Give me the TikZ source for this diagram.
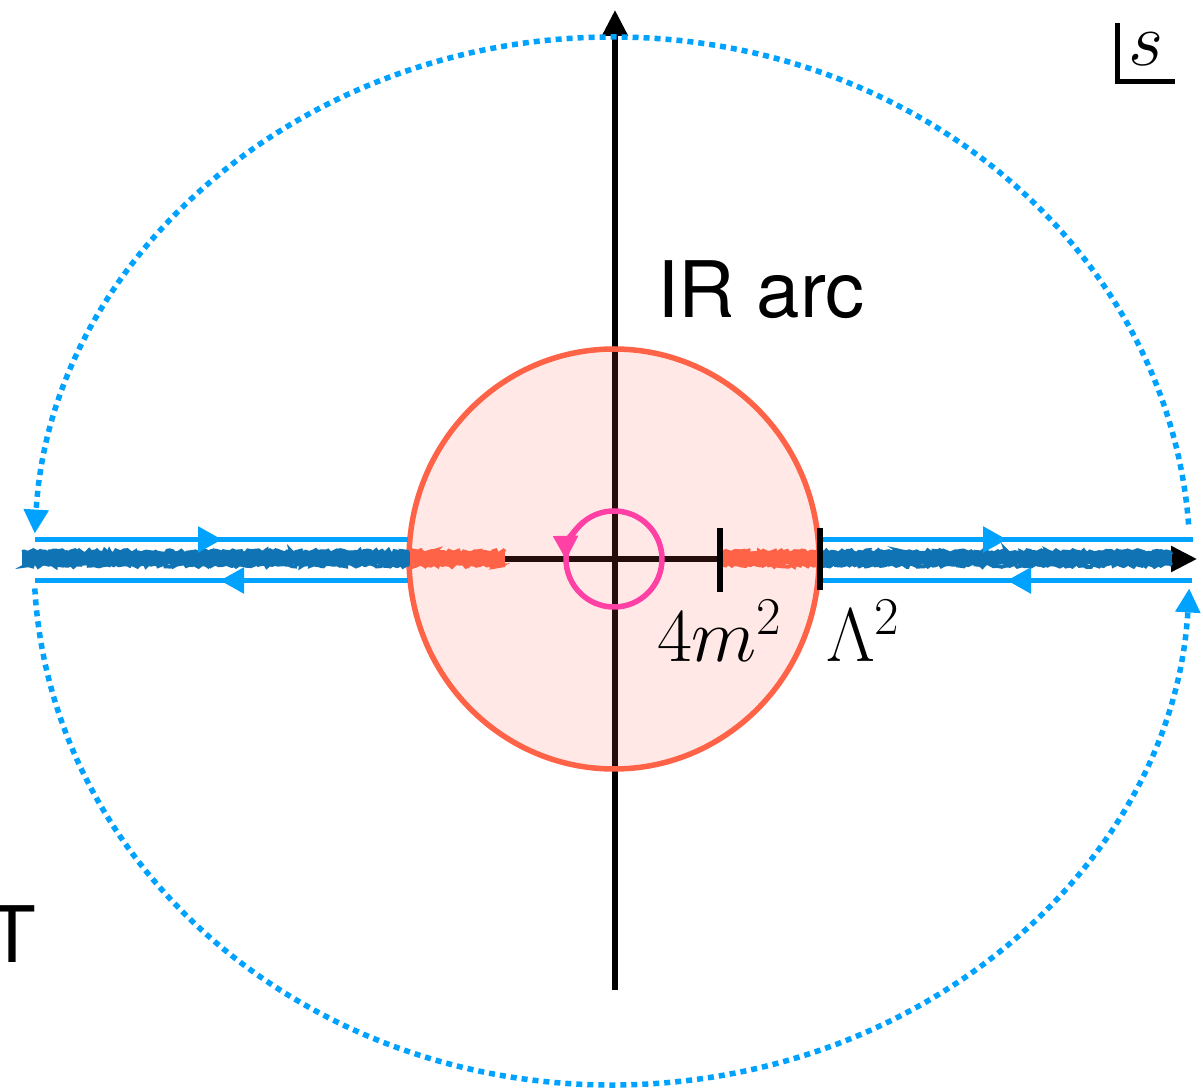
\RequirePackage{fix-cm}
\documentclass[tikz,border=0pt]{standalone}
\usepackage{fontspec}
\newfontfamily\heros{TeX Gyre Heros}
\usetikzlibrary{arrows.meta,decorations.pathmorphing,calc}
\definecolor{tomatoc}{RGB}{255,99,71}
\definecolor{lblue}{RGB}{0,162,255}
\definecolor{bandblue}{RGB}{15,115,180}
\definecolor{pinkc}{RGB}{255,64,165}
\newcommand\fuzzband[3]{%
  \draw[#1, bandcore] (#2) -- (#3);
  \draw[#1, bandedge] ($(#2)+(0,6.5)$) -- ($(#3)+(0,6.5)$);
  \draw[#1, bandedge] ($(#2)+(0,-6.5)$) -- ($(#3)+(0,-6.5)$);
}
\begin{document}
\begin{tikzpicture}[x=1pt,y=1pt,
  axisline/.style={line width=5.5pt, draw=black},
  axisarrow/.style={-{Triangle[length=26pt,width=25pt]}},
  blueline/.style={draw=lblue, line width=5.5pt},
  bluetip/.style={-{Triangle[length=24pt,width=25pt]}},
  dotc/.style={draw=lblue, line width=5.5pt, dash pattern=on 6pt off 5pt},
  bandcore/.style={line width=12pt},
  bandedge/.style={line width=4pt, decorate, decoration={random steps,segment length=2.5pt,amplitude=1.8pt}},
  tickmark/.style={line width=5.5pt, draw=black},
  lbl/.style={inner sep=0pt, outer sep=0pt, anchor=base west},
  bigmath/.style={font=\fontsize{76}{80}\selectfont},
  bigsans/.style={font=\heros\fontsize{78}{80}\selectfont},
]
\pgfmathsetseed{7}
\useasboundingbox (0,0) rectangle (1203,1088);
\fill[white] (0,0) rectangle (1203,1088);

% coordinates
\coordinate (O) at (614,529);
\coordinate (E) at (612,527);
\coordinate (VB) at (615,98);
\coordinate (VT) at (615,1078);
\coordinate (HL) at (22,529);
\coordinate (HR) at (1197,529);

% axes
\draw[axisline, axisarrow] (VB) -- (VT);
\draw[axisline, axisarrow] (HL) -- (HR);

% IR disc
\fill[tomatoc, fill opacity=0.14] (O) ellipse[x radius=205pt, y radius=210pt];
\draw[tomatoc, line width=5.5pt] (O) ellipse[x radius=205pt, y radius=210pt];

% cuts
\coordinate (B1) at (22,529.5);
\coordinate (B2) at (410,529.5);
\coordinate (B3) at (505,529.5);
\coordinate (B4) at (722,529.5);
\coordinate (B5) at (817,529.5);
\coordinate (B6) at (820,529.5);
\coordinate (B7) at (1172,529.5);
\fuzzband{bandblue}{B1}{B2}
\fuzzband{tomatoc}{B2}{B3}
\fuzzband{tomatoc}{B4}{B5}
\fuzzband{bandblue}{B6}{B7}

% contour lines
\coordinate (UL1) at (35,548.5);
\coordinate (UL2) at (408,548.5);
\coordinate (ULt) at (222,548.5);
\coordinate (LL1) at (35,507.5);
\coordinate (LL2) at (408,507.5);
\coordinate (LLt) at (220,507.5);
\coordinate (UR1) at (822,548.5);
\coordinate (UR2) at (1193,548.5);
\coordinate (URt) at (1007,548.5);
\coordinate (LR1) at (822,507.5);
\coordinate (LR2) at (1192,507.5);
\coordinate (LRt) at (1007,507.5);
\draw[blueline] (UL1) -- (UL2);
\draw[blueline, bluetip] (UL1) -- (ULt);
\draw[blueline] (LL1) -- (LL2);
\draw[blueline, bluetip] (LL2) -- (LLt);
\draw[blueline] (UR1) -- (UR2);
\draw[blueline, bluetip] (UR1) -- (URt);
\draw[blueline] (LR1) -- (LR2);
\draw[blueline, bluetip] (LR2) -- (LRt);

% ticks
\coordinate (T4a) at (720,559.5);
\coordinate (T4b) at (720,496);
\coordinate (TLa) at (820,559.5);
\coordinate (TLb) at (820,498);
\draw[tickmark] (T4a) -- (T4b);
\draw[tickmark] (TLa) -- (TLb);

% small circle
\draw[pinkc, line width=5.5pt] (O) circle[radius=48pt];
\draw[pinkc, line width=5.5pt, -{Triangle[length=24pt,width=24pt]}]
  ($(O)+(130:48)$) arc[start angle=130, end angle=181, radius=48pt];

% big dotted arcs
\draw[dotc, -{Triangle[length=24pt,width=24pt]}]
  ($(E)+(4:578 and 524)$) arc[start angle=4, end angle=177, x radius=578pt, y radius=524pt];
\draw[dotc, -{Triangle[length=24pt,width=24pt]}]
  ($(E)+(183:578 and 524)$) arc[start angle=183, end angle=357, x radius=578pt, y radius=524pt];

% labels
\node[lbl, bigsans] (ir) at (657,770) {IR arc};
\node[lbl, bigsans] (tt) at (-11,125) {T};
\node[lbl, bigmath] (fm) at (657,426) {$4m^2$};
\node[lbl, bigmath] (lam) at (826,426) {$\Lambda^2$};
\node[lbl, bigmath] (sv) at (1128,1022) {$s$};
\coordinate (SA) at (1117,1065);
\coordinate (SB) at (1117,1004);
\coordinate (SC) at (1120,1006.3);
\coordinate (SD) at (1175,1006.3);
\draw[line width=5pt] (SA) -- (SB);
\draw[line width=5pt] (SC) -- (SD);
\end{tikzpicture}
\end{document}
